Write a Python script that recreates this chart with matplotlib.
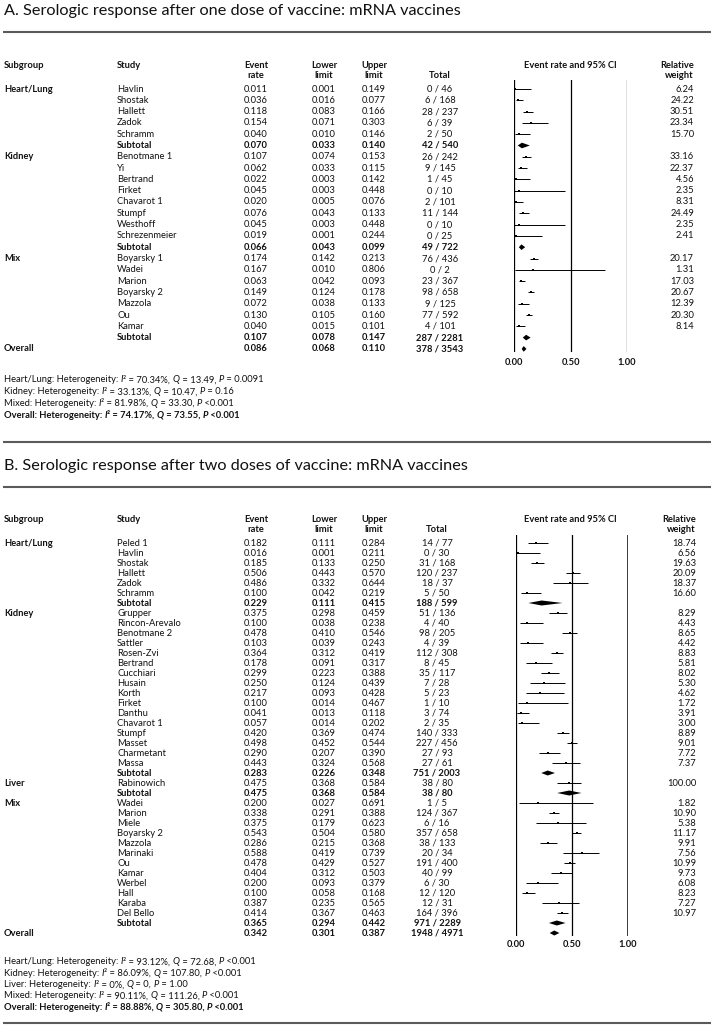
import matplotlib
matplotlib.use("Agg")
import matplotlib.pyplot as plt

plt.rcParams['font.family'] = ['Lato', 'DejaVu Sans']

# ---------------- Panel A data ----------------
a_title = "A. Serologic response after one dose of vaccine: mRNA vaccines"
a_group = ["Heart/Lung", "", "", "", "", "",
           "Kidney", "", "", "", "", "", "", "", "",
           "Mix", "", "", "", "", "", "", "",
           "Overall"]
a_study = ["Havlin", "Shostak", "Hallett", "Zadok", "Schramm", "Subtotal",
           "Benotmane 1", "Yi", "Bertrand", "Firket", "Chavarot 1", "Stumpf", "Westhoff", "Schrezenmeier", "Subtotal",
           "Boyarsky 1", "Wadei", "Marion", "Boyarsky 2", "Mazzola", "Ou", "Kamar", "Subtotal",
           ""]
a_rate = [0.011, 0.036, 0.118, 0.154, 0.040, 0.070,
          0.107, 0.062, 0.022, 0.045, 0.020, 0.076, 0.045, 0.019, 0.066,
          0.174, 0.167, 0.063, 0.149, 0.072, 0.130, 0.040, 0.107,
          0.086]
a_lower = [0.001, 0.016, 0.083, 0.071, 0.010, 0.033,
           0.074, 0.033, 0.003, 0.003, 0.005, 0.043, 0.003, 0.001, 0.043,
           0.142, 0.010, 0.042, 0.124, 0.038, 0.105, 0.015, 0.078,
           0.068]
a_upper = [0.149, 0.077, 0.166, 0.303, 0.146, 0.140,
           0.153, 0.115, 0.142, 0.448, 0.076, 0.133, 0.448, 0.244, 0.099,
           0.213, 0.806, 0.093, 0.178, 0.133, 0.160, 0.101, 0.147,
           0.110]
a_events = [0, 6, 28, 6, 2, 42,
            26, 9, 1, 0, 2, 11, 0, 0, 49,
            76, 0, 23, 98, 9, 77, 4, 287,
            378]
a_total = [46, 168, 237, 39, 50, 540,
           242, 145, 45, 10, 101, 144, 10, 25, 722,
           436, 2, 367, 658, 125, 592, 101, 2281,
           3543]
a_weight = ["6.24", "24.22", "30.51", "23.34", "15.70", "",
            "33.16", "22.37", "4.56", "2.35", "8.31", "24.49", "2.35", "2.41", "",
            "20.17", "1.31", "17.03", "20.67", "12.39", "20.30", "8.14", "",
            ""]
a_het_group = ["Heart/Lung", "Kidney", "Mixed", "Overall"]
a_het_i2 = ["70.34%", "33.13%", "81.98%", "74.17%"]
a_het_q = ["13.49", "10.47", "33.30", "73.55"]
a_het_p = ["= 0.0091", "= 0.16", "<0.001", "<0.001"]

# ---------------- Panel B data ----------------
b_title = "B. Serologic response after two doses of vaccine: mRNA vaccines"
b_group = ["Heart/Lung", "", "", "", "", "", "",
           "Kidney", "", "", "", "", "", "", "", "", "", "", "", "", "", "", "", "",
           "Liver", "",
           "Mix", "", "", "", "", "", "", "", "", "", "", "", "",
           "Overall"]
b_study = ["Peled 1", "Havlin", "Shostak", "Hallett", "Zadok", "Schramm", "Subtotal",
           "Grupper", "Rincon-Arevalo", "Benotmane 2", "Sattler", "Rosen-Zvi", "Bertrand", "Cucchiari",
           "Husain", "Korth", "Firket", "Danthu", "Chavarot 1", "Stumpf", "Masset", "Charmetant", "Massa", "Subtotal",
           "Rabinowich", "Subtotal",
           "Wadei", "Marion", "Miele", "Boyarsky 2", "Mazzola", "Marinaki", "Ou", "Kamar", "Werbel", "Hall",
           "Karaba", "Del Bello", "Subtotal",
           ""]
b_rate = [0.182, 0.016, 0.185, 0.506, 0.486, 0.100, 0.229,
          0.375, 0.100, 0.478, 0.103, 0.364, 0.178, 0.299, 0.250, 0.217, 0.100, 0.041, 0.057, 0.420, 0.498,
          0.290, 0.443, 0.283,
          0.475, 0.475,
          0.200, 0.338, 0.375, 0.543, 0.286, 0.588, 0.478, 0.404, 0.200, 0.100, 0.387, 0.414, 0.365,
          0.342]
b_lower = [0.111, 0.001, 0.133, 0.443, 0.332, 0.042, 0.111,
           0.298, 0.038, 0.410, 0.039, 0.312, 0.091, 0.223, 0.124, 0.093, 0.014, 0.013, 0.014, 0.369, 0.452,
           0.207, 0.324, 0.226,
           0.368, 0.368,
           0.027, 0.291, 0.179, 0.504, 0.215, 0.419, 0.429, 0.312, 0.093, 0.058, 0.235, 0.367, 0.294,
           0.301]
b_upper = [0.284, 0.211, 0.250, 0.570, 0.644, 0.219, 0.415,
           0.459, 0.238, 0.546, 0.243, 0.419, 0.317, 0.388, 0.439, 0.428, 0.467, 0.118, 0.202, 0.474, 0.544,
           0.390, 0.568, 0.348,
           0.584, 0.584,
           0.691, 0.388, 0.623, 0.580, 0.368, 0.739, 0.527, 0.503, 0.379, 0.168, 0.565, 0.463, 0.442,
           0.387]
b_events = [14, 0, 31, 120, 18, 5, 188,
            51, 4, 98, 4, 112, 8, 35, 7, 5, 1, 3, 2, 140, 227, 27, 27, 751,
            38, 38,
            1, 124, 6, 357, 38, 20, 191, 40, 6, 12, 12, 164, 971,
            1948]
b_total = [77, 30, 168, 237, 37, 50, 599,
           136, 40, 205, 39, 308, 45, 117, 28, 23, 10, 74, 35, 333, 456, 93, 61, 2003,
           80, 80,
           5, 367, 16, 658, 133, 34, 400, 99, 30, 120, 31, 396, 2289,
           4971]
b_weight = ["18.74", "6.56", "19.63", "20.09", "18.37", "16.60", "",
            "8.29", "4.43", "8.65", "4.42", "8.83", "5.81", "8.02", "5.30", "4.62", "1.72", "3.91", "3.00",
            "8.89", "9.01", "7.72", "7.37", "",
            "100.00", "",
            "1.82", "10.90", "5.38", "11.17", "9.91", "7.56", "10.99", "9.73", "6.08", "8.23", "7.27", "10.97", "",
            ""]
b_het_group = ["Heart/Lung", "Kidney", "Liver", "Mixed", "Overall"]
b_het_i2 = ["93.12%", "86.09%", "0%", "90.11%", "88.88%"]
b_het_q = ["72.68", "107.80", "0", "111.26", "305.80"]
b_het_p = ["<0.001", "<0.001", "= 1.00", "<0.001", "<0.001"]

# ---------------- Figure ----------------
W, H = 713, 1030
fig = plt.figure(figsize=(W / 100, H / 100), dpi=100)
bg = fig.add_axes([0, 0, 1, 1])
bg.set_xlim(0, W)
bg.set_ylim(H, 0)
bg.axis('off')
renderer = fig.canvas.get_renderer()

TXT = '#111111'
FS = 6.75
RULE = '#5a5a5a'


def hline(y):
    bg.plot([3, 711], [y, y], color=RULE, lw=1.5, solid_capstyle='butt')


def het_segments(g, i2, q, p):
    return [(f"{g}: Heterogeneity: ", False), ("I", True), ("² = " + i2 + ", ", False),
            ("Q", True), (" = " + q + ", ", False), ("P", True), (" " + p, False)]


def seg_text(x, y, segs, bold):
    for s, ital in segs:
        t = bg.text(x, y, s, fontsize=FS, color=TXT, ha='left', va='center',
                    fontstyle='italic' if ital else 'normal',
                    fontweight='bold' if bold else 'normal')
        bb = t.get_window_extent(renderer)
        x += bb.width * 100.0 / fig.dpi


def draw_panel(title, group, study, rate, lower, upper, events, total, weight,
               het_g, het_i2, het_q, het_p, L):
    bg.text(4, L['title_y'], title, fontsize=11.7, color=TXT, ha='left', va='center')
    hline(L['rule_y'])
    h1, h2 = L['h1'], L['h2']
    hb = dict(fontsize=FS, fontweight='bold', color=TXT, va='center')
    bg.text(4, h1, "Subgroup", ha='left', **hb)
    bg.text(117, h1, "Study", ha='left', **hb)
    for x, a, b in [(L['c_rate'], "Event", "rate"), (L['c_lo'], "Lower", "limit"), (L['c_hi'], "Upper", "limit")]:
        bg.text(x, h1, a, ha='center', **hb)
        bg.text(x, h2, b, ha='center', **hb)
    bg.text(L['c_tot'], h2, "Total", ha='center', **hb)
    bg.text(570, h1, "Event rate and 95% CI", ha='center', **hb)
    bg.text(L['c_w'], h1, "Relative", ha='right', **hb)
    bg.text(L['c_w'], h2, "weight", ha='right', **hb)

    n = len(study)
    r0, rh = L['row0'], L['row_h']
    for i in range(n):
        y = r0 + i * rh
        summ = study[i] == "Subtotal" or group[i] == "Overall"
        fw = 'bold' if summ else 'normal'
        kw = dict(fontsize=FS, color=TXT, va='center', fontweight=fw)
        if group[i]:
            bg.text(4, y, group[i], ha='left', fontsize=FS, color=TXT, va='center', fontweight='bold')
        if study[i]:
            bg.text(117, y, study[i], ha='left', **kw)
        bg.text(L['c_rate'], y, f"{rate[i]:.3f}", ha='center', **kw)
        bg.text(L['c_lo'], y, f"{lower[i]:.3f}", ha='center', **kw)
        bg.text(L['c_hi'], y, f"{upper[i]:.3f}", ha='center', **kw)
        bg.text(L['c_tot'], y, f"{events[i]} / {total[i]}", ha='center', **kw)
        if weight[i]:
            bg.text(L['c_w'], y, weight[i], ha='right', **kw)

    # forest axes
    top_px = r0 - 0.8 * rh
    bot_px = r0 + (n - 1) * rh + 0.3 * rh
    x0, x1 = L['x0'], L['x1']
    ax = fig.add_axes([x0 / W, 1 - bot_px / H, (x1 - x0) / W, (bot_px - top_px) / H])
    ax.set_xlim(0, 1)
    ax.set_ylim(n - 1 + 0.3, -0.8)
    for s in ax.spines.values():
        s.set_visible(False)
    ax.set_yticks([])
    ax.set_xticks([0, 0.5, 1.0])
    ax.set_xticklabels(["0.00", "0.50", "1.00"], fontsize=FS, fontweight='bold', color=TXT)
    ax.tick_params(axis='x', length=0, pad=L['pad'])
    ax.patch.set_alpha(0)
    for xv, lw in zip([0, 0.5, 1.0], L['vlw']):
        ax.axvline(xv, color='k', lw=lw)
    for i in range(n):
        summ = study[i] == "Subtotal" or group[i] == "Overall"
        if summ:
            h = 0.25
            ax.fill([lower[i], rate[i], upper[i], rate[i]], [i, i - h, i, i + h],
                    color='k', lw=0)
        else:
            ax.plot([lower[i], upper[i]], [i, i], color='k', lw=0.7, solid_capstyle='butt')
            ax.plot([rate[i]], [i], marker='s', ms=1.5, color='k', mew=0)

    # heterogeneity
    for k in range(len(het_g)):
        bold = het_g[k] == "Overall"
        seg_text(4, L['het0'] + k * L['het_dy'],
                 het_segments(het_g[k], het_i2[k], het_q[k], het_p[k]), bold)
    hline(L['end_rule'])


LA = dict(title_y=11, rule_y=32, h1=65, h2=75, row0=89, row_h=11.3,
          c_rate=256, c_lo=324, c_hi=374, c_tot=440, c_w=694,
          x0=514, x1=627, pad=4, vlw=[0.9, 0.9, 0.9],
          het0=380, het_dy=11.7, end_rule=442)
LB = dict(title_y=466, rule_y=487, h1=519, h2=529, row0=543, row_h=10.0,
          c_rate=256, c_lo=324, c_hi=374, c_tot=437, c_w=696,
          x0=516, x1=628, pad=3, vlw=[0.9, 0.9, 1.8],
          het0=962, het_dy=11.3, end_rule=1023)

draw_panel(a_title, a_group, a_study, a_rate, a_lower, a_upper, a_events, a_total, a_weight,
           a_het_group, a_het_i2, a_het_q, a_het_p, LA)
draw_panel(b_title, b_group, b_study, b_rate, b_lower, b_upper, b_events, b_total, b_weight,
           b_het_group, b_het_i2, b_het_q, b_het_p, LB)

fig.savefig("out.png", dpi=100)
